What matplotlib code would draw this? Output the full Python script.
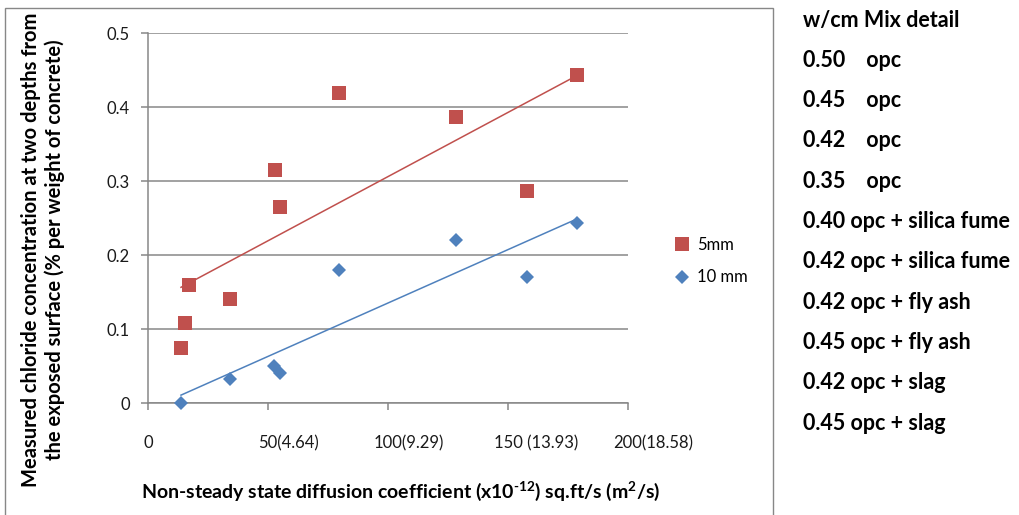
import numpy as np
import matplotlib
matplotlib.use("Agg")
import matplotlib.pyplot as plt
from matplotlib.patches import Rectangle
from matplotlib.transforms import ScaledTranslation

plt.rcParams['font.family'] = ['Lato', 'DejaVu Sans']
plt.rcParams['mathtext.fontset'] = 'custom'
plt.rcParams['mathtext.rm'] = 'Lato'
plt.rcParams['mathtext.bf'] = 'Lato:bold'
plt.rcParams['axes.unicode_minus'] = False

# Non-steady state diffusion coefficient (x1e-12 sq.ft/s)
x_5mm = [13.75, 15.4, 17.2, 34.2, 52.8, 55.1, 79.7, 128.3, 158.0, 178.9]
y_5mm = [0.075, 0.108, 0.159, 0.140, 0.315, 0.265, 0.419, 0.387, 0.286, 0.443]
x_10mm = [13.75, 34.2, 52.5, 55.0, 79.4, 128.3, 157.8, 178.6]
y_10mm = [0.000, 0.033, 0.050, 0.040, 0.180, 0.220, 0.170, 0.243]

x_ticks = [0, 50, 100, 150, 200]
x_tick_labels = ["0", "50(4.64)", "100(9.29)", "150 (13.93)", "200(18.58)"]
y_ticks = [0, 0.1, 0.2, 0.3, 0.4, 0.5]
y_tick_labels = ["0", "0.1", "0.2", "0.3", "0.4", "0.5"]

wcm = ["0.50", "0.45", "0.42", "0.35", "0.40", "0.42", "0.42", "0.45", "0.42", "0.45"]
mix = ["opc", "opc", "opc", "opc", "opc + silica fume", "opc + silica fume",
       "opc + fly ash", "opc + fly ash", "opc + slag", "opc + slag"]

RED = "#C0504D"
BLUE = "#4F81BD"
GREY = "#878787"

W, H = 1019, 515
fig = plt.figure(figsize=(W / 100, H / 100), dpi=100)
ax = fig.add_axes([148 / W, (H - 403) / H, 480 / W, 370 / H])

# chart area border
fig.add_artist(Rectangle((5 / W, -0.05), 768 / W, (H - 8) / H + 0.05,
                         transform=fig.transFigure, fill=False,
                         edgecolor=GREY, linewidth=1.0, clip_on=False))

ax.set_xlim(0, 200)
ax.set_ylim(0, 0.5)
ax.yaxis.grid(True, color=GREY, linewidth=1.1)
ax.set_axisbelow(True)
for s in ("top", "right"):
    ax.spines[s].set_visible(False)
for s in ("left", "bottom"):
    ax.spines[s].set_color(GREY)
    ax.spines[s].set_linewidth(1.1)

TICK_FS = 12
ax.set_yticks(y_ticks)
ax.set_yticklabels(y_tick_labels)
ax.set_xticks(x_ticks)
ax.set_xticklabels(x_tick_labels, ha="left")
ax.tick_params(axis="both", colors=GREY, labelcolor="#1a1a1a", labelsize=TICK_FS,
               length=5, width=1.1, direction="out")
ax.tick_params(axis="x", pad=18)
ax.tick_params(axis="y", pad=8)

# each x label: the leading number sits centred on its tick
fig.canvas.draw()
renderer = fig.canvas.get_renderer()
for lab in ax.get_xticklabels():
    num = lab.get_text().split("(")[0].strip()
    t = fig.text(0, 0, num, fontsize=TICK_FS)
    w = t.get_window_extent(renderer).width
    t.remove()
    lab.set_transform(lab.get_transform() + ScaledTranslation(-w / 2 / 100, 0, fig.dpi_scale_trans))

# scatter series
ax.plot(x_5mm, y_5mm, linestyle="none", marker="s", markersize=10.5,
        color=RED, markeredgewidth=0, label="5mm", clip_on=False, zorder=3)
ax.plot(x_10mm, y_10mm, linestyle="none", marker="D", markersize=7,
        color=BLUE, markeredgewidth=0, label="10 mm", clip_on=False, zorder=3)

# linear trendlines
for xs, ys, c in ((x_5mm, y_5mm, RED), (x_10mm, y_10mm, BLUE)):
    k, b = np.polyfit(xs, ys, 1)
    xx = np.array([min(xs), max(xs)])
    ax.plot(xx, k * xx + b, color=c, linewidth=1.1, zorder=2)

leg = ax.legend(loc="center left", bbox_to_anchor=(675 / W, (H - 261) / H),
                bbox_transform=fig.transFigure, frameon=False, fontsize=12,
                handlelength=0.8, handletextpad=0.5, labelspacing=1.0,
                borderpad=0, borderaxespad=0)

ax.set_xlabel("Non-steady state diffusion coefficient (x10$^{\\mathbf{\u201012}}$) sq.ft/s (m$^{\\mathbf{2}}$/s)",
              fontsize=14, fontweight="bold")
ax.xaxis.set_label_coords(0.527, -0.205)
fig.text(43 / W, (H - 250) / H,
         "Measured chloride concentration at two depths from\nthe exposed surface (% per weight of concrete)",
         rotation=90, ha="center", va="center", fontsize=14.5, fontweight="bold",
         linespacing=1.2)

# mix details table
TAB_FS = 15.5
fig.text(803 / W, (H - 20) / H, "w/cm Mix detail", fontsize=TAB_FS,
         fontweight="bold", va="center", ha="left")
for i, (w, m) in enumerate(zip(wcm, mix)):
    gap = "    " if m == "opc" else " "
    fig.text(803 / W, (H - 60.3 - 40.3 * i) / H, w + gap + m, fontsize=TAB_FS,
             fontweight="bold", va="center", ha="left")

fig.savefig("out.png", dpi=100)
